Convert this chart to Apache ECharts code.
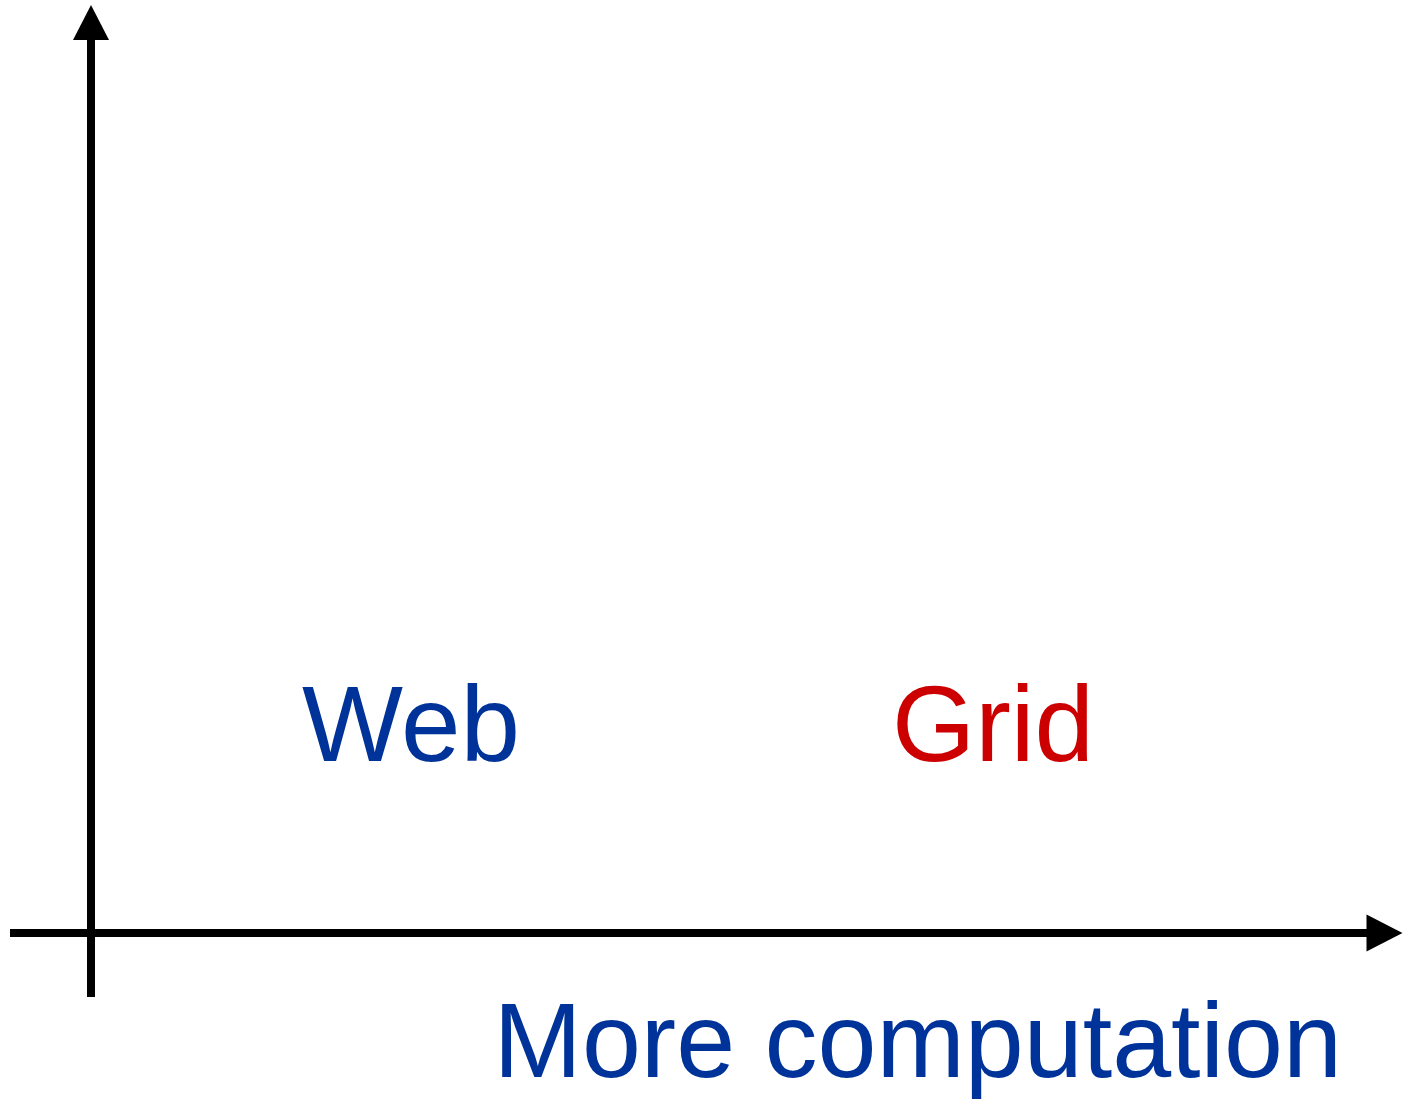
<!DOCTYPE html>
<html>
<head>
<meta charset="utf-8">
<script src="https://cdn.jsdelivr.net/npm/echarts@6/dist/echarts.min.js"></script>
<style>
  html, body { margin: 0; padding: 0; background: #fff; }
  #chart { width: 1405px; height: 1105px; }
</style>
</head>
<body>
<div id="chart"></div>
<script>
// Diagram labels and their positions in diagram units (origin where the axes cross)
const labels = ['Web', 'Grid'];
const labelX = [320, 902];
const labelY = [202, 202];
const labelColors = ['#003399', '#cc0000'];
const xAxisTitle = 'More computation';

const chart = echarts.init(document.getElementById('chart'), null, { renderer: 'canvas' });

const FONT = '"Liberation Sans", Arial, sans-serif';

const points = labels.map((name, i) => ({
  name: name,
  value: [labelX[i], labelY[i]],
  label: { color: labelColors[i] }
}));

const axisLineStyle = { color: '#000', width: 8, cap: 'butt' };

chart.setOption({
  backgroundColor: '#ffffff',
  animation: false,
  title: {
    text: xAxisTitle,
    right: 58,
    top: 990,
    textStyle: { color: '#003399', fontSize: 106, fontWeight: 'normal', fontFamily: FONT }
  },
  grid: { left: 10, right: 20.5, top: 22.5, bottom: 108, containLabel: false },
  xAxis: {
    type: 'value',
    min: -81,
    max: 1293.5,
    axisLine: { onZero: true, lineStyle: axisLineStyle, symbol: ['none', 'triangle'], symbolSize: [37, 36] },
    axisTick: { show: false },
    axisLabel: { show: false },
    splitLine: { show: false }
  },
  yAxis: {
    type: 'value',
    min: -64,
    max: 910.5,
    axisLine: { onZero: true, lineStyle: axisLineStyle, symbol: ['none', 'triangle'], symbolSize: [36, 35] },
    axisTick: { show: false },
    axisLabel: { show: false },
    splitLine: { show: false }
  },
  series: [{
    type: 'scatter',
    symbolSize: 0,
    silent: true,
    itemStyle: { opacity: 1 },
    data: points,
    label: {
      show: true,
      position: 'inside',
      formatter: '{b}',
      fontSize: 107,
      opacity: 1,
      fontFamily: FONT
    }
  }]
});
</script>
</body>
</html>
